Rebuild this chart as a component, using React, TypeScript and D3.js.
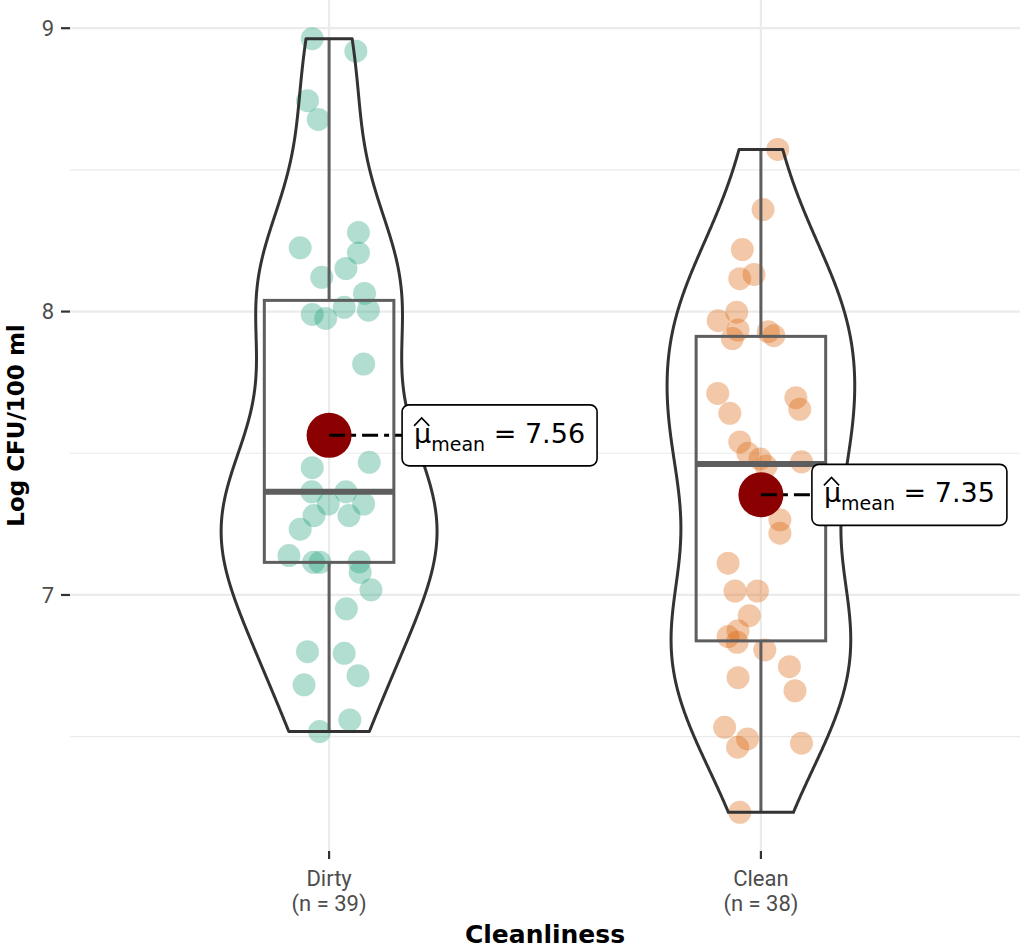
import React, { useRef, useEffect } from 'react'
import * as d3 from 'd3'

// groups on the x axis
const categories = ['Dirty', 'Clean']
const groupColors = ['#1B9E77', '#D95F02']

// log CFU/100 ml
const dirtyValues = [
  8.963, 8.919, 8.744, 8.678, 8.279, 8.225, 8.207, 8.152, 8.121, 8.064,
  8.015, 7.99, 7.976, 8.005, 7.815, 7.449, 7.468, 7.364, 7.364, 7.321,
  7.321, 7.28, 7.28, 7.232, 7.139, 7.115, 7.115, 7.117, 7.08, 7.018,
  6.951, 6.8, 6.794, 6.715, 6.683, 6.559, 6.518, 7.56, 7.57,
]
// horizontal jitter of each point, in category units
const dirtyJitter = [
  -0.039, 0.062, -0.05, -0.025, 0.068, -0.067, 0.068, 0.039, -0.017, 0.082,
  0.035, -0.039, -0.008, 0.091, 0.08, -0.039, 0.093, -0.04, 0.039, -0.002,
  0.08, -0.035, 0.046, -0.067, -0.093, -0.036, -0.021, 0.07, 0.072, 0.097,
  0.04, -0.05, 0.035, 0.067, -0.058, 0.048, -0.022, 0.005, -0.01,
]

const cleanValues = [
  8.572, 8.36, 8.219, 8.131, 8.116, 7.998, 7.968, 7.935, 7.905, 7.929,
  7.915, 7.711, 7.696, 7.655, 7.641, 7.54, 7.5, 7.48, 7.47, 7.455,
  7.265, 7.218, 7.112, 7.014, 7.014, 6.927, 6.874, 6.853, 6.833, 6.806,
  6.747, 6.708, 6.662, 6.533, 6.492, 6.463, 6.477, 6.233,
]
const cleanJitter = [
  0.039, 0.005, -0.043, -0.016, -0.049, -0.056, -0.099, -0.053, -0.066, 0.017,
  0.03, -0.1, 0.081, 0.09, -0.072, -0.049, -0.03, -0.002, 0.094, 0.012,
  0.044, 0.044, -0.076, -0.06, -0.008, -0.027, -0.053, -0.076, -0.055, 0.009,
  0.066, -0.053, 0.079, -0.084, -0.031, -0.054, 0.094, -0.049,
]

const yTicks = [7, 8, 9]
const yMinorTicks = [6.5, 7.5, 8.5]
const xTitle = 'Cleanliness'
const yTitle = 'Log CFU/100 ml'

const W = 1020
const H = 951

const App = () => {
  const ref = useRef<SVGSVGElement>(null)

  useEffect(() => {
    const svg = d3.select(ref.current)
    svg.selectAll('*').remove()

    const panel = { left: 70, right: 1020, top: 0, bottom: 851 }
    const groups = [
      { name: categories[0], values: dirtyValues, jitter: dirtyJitter, color: groupColors[0] },
      { name: categories[1], values: cleanValues, jitter: cleanJitter, color: groupColors[1] },
    ]

    const all = dirtyValues.concat(cleanValues)
    const [lo, hi] = d3.extent(all) as [number, number]
    const pad = (hi - lo) * 0.05

    const x = d3.scaleLinear().domain([0.4, 2.6]).range([panel.left, panel.right])
    const y = d3.scaleLinear().domain([lo - pad, hi + pad]).range([panel.bottom, panel.top])
    const unit = x(2) - x(1)

    // grid
    const grid = svg.append('g')
    grid.selectAll('.minor').data(yMinorTicks).join('line')
      .attr('x1', panel.left).attr('x2', panel.right)
      .attr('y1', d => y(d)).attr('y2', d => y(d))
      .attr('stroke', '#EBEBEB').attr('stroke-width', 1.1)
    grid.selectAll('.major').data(yTicks).join('line')
      .attr('x1', panel.left).attr('x2', panel.right)
      .attr('y1', d => y(d)).attr('y2', d => y(d))
      .attr('stroke', '#EBEBEB').attr('stroke-width', 2.2)
    grid.selectAll('.vmajor').data(groups).join('line')
      .attr('x1', (d, i) => x(i + 1)).attr('x2', (d, i) => x(i + 1))
      .attr('y1', panel.top).attr('y2', panel.bottom)
      .attr('stroke', '#EBEBEB').attr('stroke-width', 2.2)

    // stats per group
    const stats = groups.map(g => {
      const s = g.values.slice().sort(d3.ascending)
      const q1 = d3.quantile(s, 0.25) as number
      const q3 = d3.quantile(s, 0.75) as number
      const med = d3.quantile(s, 0.5) as number
      const iqr = q3 - q1
      const whiskLo = d3.min(s.filter(v => v >= q1 - 1.5 * iqr)) as number
      const whiskHi = d3.max(s.filter(v => v <= q3 + 1.5 * iqr)) as number
      const sd = d3.deviation(s) as number
      const bw = 0.9 * Math.min(sd, iqr / 1.34) * Math.pow(s.length, -0.2)
      const grid = d3.range(512).map(i => s[0] + (s[s.length - 1] - s[0]) * i / 511)
      const dens = grid.map(t => {
        let sum = 0
        for (const v of s) {
          const z = (t - v) / bw
          sum += Math.exp(-0.5 * z * z)
        }
        return sum / (s.length * bw * Math.sqrt(2 * Math.PI))
      })
      return { q1, q3, med, whiskLo, whiskHi, grid, dens, mean: d3.mean(s) as number }
    })
    const maxDens = d3.max(stats, st => d3.max(st.dens)) as number

    // jittered points
    groups.forEach((g, i) => {
      svg.append('g').selectAll('circle').data(g.values).join('circle')
        .attr('cx', (d, j) => x(i + 1 + g.jitter[j]))
        .attr('cy', d => y(d))
        .attr('r', 11.5)
        .attr('fill', g.color)
        .attr('fill-opacity', 0.34)
    })

    // boxplots
    const boxW = 0.3 * unit
    groups.forEach((g, i) => {
      const st = stats[i]
      const cx = x(i + 1)
      const b = svg.append('g').attr('stroke', '#5E5E5E').attr('fill', 'none')
      b.append('line').attr('x1', cx).attr('x2', cx).attr('y1', y(st.q3)).attr('y2', y(st.whiskHi)).attr('stroke-width', 3)
      b.append('line').attr('x1', cx).attr('x2', cx).attr('y1', y(st.q1)).attr('y2', y(st.whiskLo)).attr('stroke-width', 3)
      b.append('rect').attr('x', cx - boxW / 2).attr('width', boxW)
        .attr('y', y(st.q3)).attr('height', y(st.q1) - y(st.q3)).attr('stroke-width', 3)
      b.append('line').attr('x1', cx - boxW / 2).attr('x2', cx + boxW / 2)
        .attr('y1', y(st.med)).attr('y2', y(st.med)).attr('stroke-width', 6)
    })

    // violins
    groups.forEach((g, i) => {
      const st = stats[i]
      const cx = x(i + 1)
      const half = (d: number) => d / maxDens * 0.25 * unit
      const pts: [number, number][] = []
      st.grid.forEach((t, k) => pts.push([cx - half(st.dens[k]), y(t)]))
      for (let k = st.grid.length - 1; k >= 0; k--) pts.push([cx + half(st.dens[k]), y(st.grid[k])])
      svg.append('path')
        .attr('d', d3.line()(pts) + 'Z')
        .attr('fill', 'none')
        .attr('stroke', '#333333')
        .attr('stroke-width', 3)
        .attr('stroke-linejoin', 'round')
    })

    // means + labels
    const labelOffset = [73, 51]
    groups.forEach((g, i) => {
      const st = stats[i]
      const mx = x(i + 1)
      const my = y(st.mean)
      svg.append('circle').attr('cx', mx).attr('cy', my).attr('r', 22.5).attr('fill', '#8B0000')
      const lx = mx + labelOffset[i]
      svg.append('line').attr('x1', mx).attr('x2', lx).attr('y1', my).attr('y2', my)
        .attr('stroke', 'black').attr('stroke-width', 3).attr('stroke-dasharray', '16,6,5,6')
      const lab = svg.append('g')
      const rect = lab.append('rect').attr('fill', 'white').attr('stroke', 'black')
        .attr('stroke-width', 1.6).attr('rx', 7).attr('ry', 7)
      const base = my + 7.5
      const txt = lab.append('text').attr('x', lx + 12).attr('y', base)
        .attr('font-family', 'DejaVu Sans').attr('font-size', 27).attr('fill', 'black')
      txt.append('tspan').text('μ')
      txt.append('tspan').attr('font-size', 19).attr('dy', 8).text('mean')
      txt.append('tspan').attr('dy', -8).text(' = ' + st.mean.toFixed(2))
      const node = txt.node() as SVGTextElement
      const tw = node.getComputedTextLength()
      const muW = node.getSubStringLength(0, 1)
      rect.attr('x', lx).attr('y', my - 30.5).attr('width', tw + 24).attr('height', 61)
      const hx = lx + 12
      lab.append('path')
        .attr('d', `M${hx},${base - 17}L${hx + muW / 2 - 1},${base - 25}L${hx + muW - 2},${base - 17}`)
        .attr('fill', 'none').attr('stroke', 'black').attr('stroke-width', 1.6)
    })

    // y axis
    const ya = svg.append('g')
    ya.selectAll('line').data(yTicks).join('line')
      .attr('x1', panel.left - 9).attr('x2', panel.left)
      .attr('y1', d => y(d)).attr('y2', d => y(d))
      .attr('stroke', '#333333').attr('stroke-width', 2.2)
    ya.selectAll('text').data(yTicks).join('text')
      .attr('x', panel.left - 16).attr('y', d => y(d)).attr('dy', '0.36em')
      .attr('text-anchor', 'end').attr('font-family', 'Roboto').attr('font-size', 22)
      .attr('fill', '#4D4D4D').text(d => d)

    // x axis
    const xa = svg.append('g')
    groups.forEach((g, i) => {
      const cx = x(i + 1)
      xa.append('line').attr('x1', cx).attr('x2', cx).attr('y1', panel.bottom).attr('y2', panel.bottom + 8)
        .attr('stroke', '#333333').attr('stroke-width', 2.2)
      const t = xa.append('text').attr('text-anchor', 'middle').attr('font-family', 'Roboto')
        .attr('font-size', 22).attr('fill', '#4D4D4D')
      t.append('tspan').attr('x', cx).attr('y', 886).text(g.name)
      t.append('tspan').attr('x', cx).attr('y', 911).text(`(n = ${g.values.length})`)
    })

    svg.append('text').attr('x', (panel.left + panel.right) / 2).attr('y', 943)
      .attr('text-anchor', 'middle').attr('font-family', 'DejaVu Sans').attr('font-weight', 'bold')
      .attr('font-size', 25).attr('fill', 'black').text(xTitle)
    svg.append('text').attr('transform', `translate(24,${(panel.top + panel.bottom) / 2}) rotate(-90)`)
      .attr('text-anchor', 'middle').attr('font-family', 'DejaVu Sans').attr('font-weight', 'bold')
      .attr('font-size', 23).attr('fill', 'black').text(yTitle)
  }, [])

  return (
    <svg
      ref={ref}
      width={W}
      height={H}
      style={{ position: 'absolute', left: 0, top: 0, background: 'white' }}
    />
  )
}

export default App
